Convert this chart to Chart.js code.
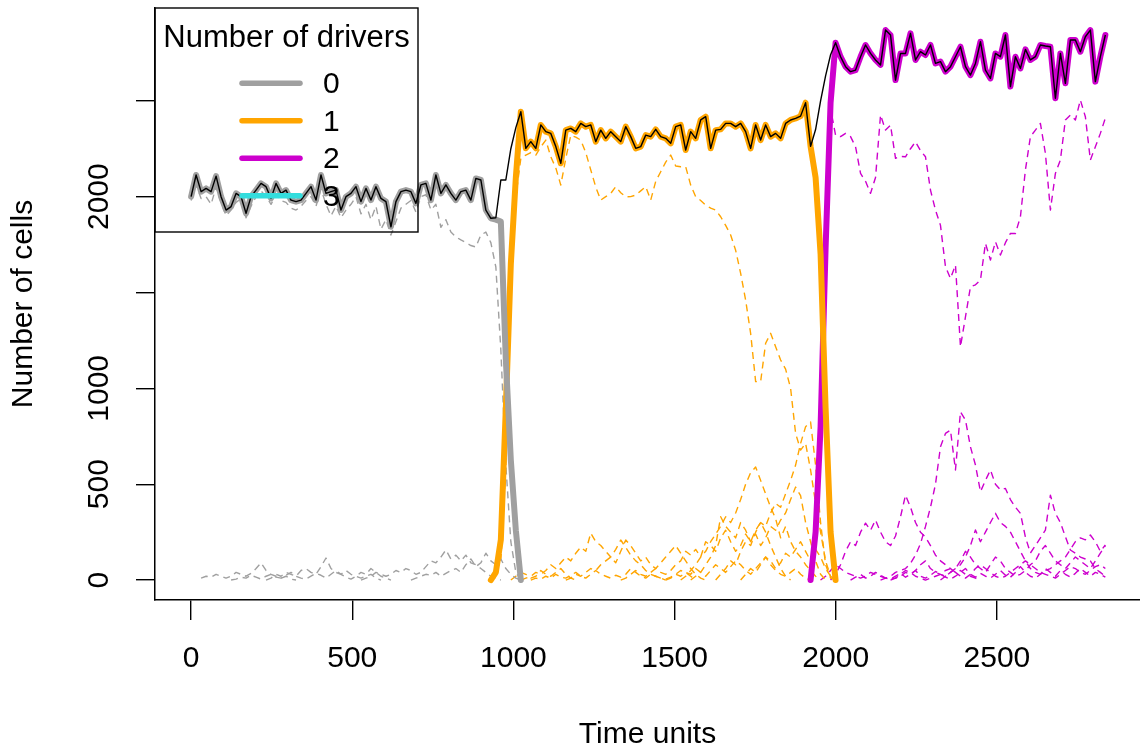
<!DOCTYPE html>
<html>
<head>
<meta charset="utf-8">
<script src="https://cdn.jsdelivr.net/npm/chart.js@4.4.1/dist/chart.umd.min.js"></script>
<style>
  html, body { margin: 0; padding: 0; background: #fff; }
  #wrap { width: 1140px; height: 754px; }
</style>
</head>
<body>
<div id="wrap"><canvas id="chart" width="1140" height="754"></canvas></div>
<script>
// time units between two recorded samples; every array below holds one value per sample
const step = 15.5;

// total number of cells (thin black line), from sample 0
const total = [
  2000, 2113, 2026, 2043, 2026, 2107, 2000, 1930, 1948, 2017,
  2000, 1913, 2000, 2034, 2069, 2052, 1991, 2069, 2017, 2034,
  1982, 1974, 1982, 2017, 2052, 1982, 2113, 2017, 2026, 2034,
  1930, 2000, 2017, 2052, 1974, 2043, 1982, 2052, 1991, 1974,
  1843, 1974, 2026, 2034, 2026, 1965, 2061, 2069, 1982, 2113,
  2017, 2061, 2017, 1982, 2026, 2034, 1982, 2095, 2087, 1930, 1887,
  1890, 2087, 2087, 2250, 2360,
  2443, 2252, 2287, 2252, 2374, 2339, 2330, 2261, 2174, 2347,
  2356, 2339, 2382, 2365, 2374, 2287, 2347, 2304, 2339, 2313,
  2287, 2365, 2313, 2252, 2261, 2321, 2313, 2351, 2313, 2304,
  2278, 2365, 2374, 2243, 2339, 2304, 2400, 2417, 2252, 2347,
  2351, 2382, 2382, 2365, 2382, 2339, 2252, 2374, 2295, 2374,
  2313, 2330, 2304, 2382, 2400, 2408, 2420, 2490,
  2262, 2350, 2500, 2630, 2740,
  2803, 2730, 2678, 2652, 2660, 2730, 2791, 2747, 2713, 2687,
  2869, 2843, 2608, 2747, 2747, 2852, 2713, 2756, 2739, 2791,
  2695, 2704, 2652, 2678, 2730, 2782, 2678, 2634, 2695, 2808,
  2660, 2617, 2747, 2730, 2843, 2574, 2730, 2669, 2768, 2713,
  2730, 2791, 2786, 2782, 2513, 2747, 2591, 2817, 2817, 2756,
  2834, 2869, 2600, 2730, 2843
];

// cells per number of drivers (thick lines)
const class0Start = 0;
const class0 = [
  2000, 2113, 2026, 2043, 2026, 2107, 2000, 1930, 1948, 2017,
  2000, 1913, 2000, 2034, 2069, 2052, 1991, 2069, 2017, 2034,
  1982, 1974, 1982, 2017, 2052, 1982, 2113, 2017, 2026, 2034,
  1930, 2000, 2017, 2052, 1974, 2043, 1982, 2052, 1991, 1974,
  1843, 1974, 2026, 2034, 2026, 1965, 2061, 2069, 1982, 2113,
  2017, 2061, 2017, 1982, 2026, 2034, 1982, 2095, 2087, 1930, 1887,
  1880, 1870, 1148, 626, 260, 0
];
const class1Start = 60;
const class1 = [
  0, 40, 210, 900, 1650, 2100,
  2443, 2252, 2287, 2252, 2374, 2339, 2330, 2261, 2174, 2347,
  2356, 2339, 2382, 2365, 2374, 2287, 2347, 2304, 2339, 2313,
  2287, 2365, 2313, 2252, 2261, 2321, 2313, 2351, 2313, 2304,
  2278, 2365, 2374, 2243, 2339, 2304, 2400, 2417, 2252, 2347,
  2351, 2382, 2382, 2365, 2382, 2339, 2252, 2374, 2295, 2374,
  2313, 2330, 2304, 2382, 2400, 2408, 2420, 2490,
  2262, 2100, 1700, 900, 250, 0
];
const class2Start = 124;
const class2 = [
  0, 250, 800, 1730, 2490,
  2803, 2730, 2678, 2652, 2660, 2730, 2791, 2747, 2713, 2687,
  2869, 2843, 2608, 2747, 2747, 2852, 2713, 2756, 2739, 2791,
  2695, 2704, 2652, 2678, 2730, 2782, 2678, 2634, 2695, 2808,
  2660, 2617, 2747, 2730, 2843, 2574, 2730, 2669, 2768, 2713,
  2730, 2791, 2786, 2782, 2513, 2747, 2591, 2817, 2817, 2756,
  2834, 2869, 2600, 2730, 2843
];

// single clones (dashed lines), grouped by number of drivers
const grayMain = [
  1980, 2060, 1990, 2000, 1960, 2050, 1970, 1900, 1930, 1970,
  1990, 1890, 1950, 2000, 2030, 2000, 1960, 2010, 1980, 1970,
  1940, 1930, 1950, 1980, 2000, 1950, 2040, 1960, 1900, 1950,
  1890, 1930, 1960, 2000, 1910, 1960, 1880, 1950, 1830, 1880,
  1800, 1870, 1940, 1960, 1980, 1920, 2000, 2010, 1930, 1960,
  1840, 1880, 1815, 1790, 1774, 1760, 1745, 1737, 1800, 1815,
  1760, 1633, 1200, 600, 200, 40, 0
];
const graySmall1 = [10, 20, 15, 30, 20, 10, 20, 40, 30, 20, 35, 60, 90, 50, 30, 20, 10, 20, 5, 0];
const graySmall2 = [0, 10, 30, 20, 40, 30, 20, 50, 60, 40, 30, 70, 115, 60, 40, 30, 50, 30, 20, 10, 20, 30, 10, 0];
const graySmall3 = [0, 10, 20, 40, 30, 20, 30, 50, 40, 60, 50, 30, 40, 70, 100, 90, 120, 157, 110, 130, 100, 130, 90, 80, 60, 40, 20, 10, 0];
const graySmall4 = [0, 10, 20, 30, 25, 40, 20, 35, 50, 60, 40, 80, 110, 70, 90, 140, 100, 80, 110, 60, 30, 10, 0];
const graySmall5 = [0, 5, 15, 10, 25, 15, 5, 20, 30, 15, 10, 25, 40, 20, 10, 5, 20, 35, 25, 10, 30, 50, 30, 15, 5, 20, 40, 30, 60, 40, 20, 10, 0];
const grayStarts = [0, 2, 15, 34, 44, 8];

const orangeMain = [
  100, 600, 1500, 2000, 2200, 2217, 2230, 2217, 2260, 2295,
  2208, 2150, 2060, 2200, 2321, 2310, 2295, 2230, 2139, 2050,
  1982, 2000, 2017, 2052, 2020, 1999, 2000, 2008, 2030, 2052,
  1982, 2080, 2130, 2180, 2217, 2160, 2156, 2156, 2060, 2000,
  1980, 1956, 1940, 1930, 1895, 1850, 1800, 1720, 1600, 1460,
  1287, 1035, 1035, 1235, 1287, 1217, 1148, 1100, 1000, 765,
  678, 713, 574, 400, 250, 100, 20, 0
];
const orangeB = [0, 20, 50, 80, 120, 150, 200, 240, 280, 330, 300, 350, 420, 500, 560, 590, 520, 450, 380, 320, 220, 280, 200, 150, 120, 80, 50, 20, 0];
const orangeC = [0, 30, 60, 100, 80, 150, 200, 180, 250, 300, 280, 350, 400, 380, 450, 520, 600, 713, 800, 824, 600, 300, 80, 10, 0];
const orangeD = [0, 20, 40, 80, 120, 180, 330, 280, 250, 220, 300, 260, 200, 240, 180, 220, 280, 260, 313, 350, 420, 485, 440, 300, 200, 100, 30, 0];
const orangeE = [0, 10, 20, 40, 30, 50, 80, 60, 90, 120, 100, 140, 172, 150, 245, 200, 180, 150, 120, 160, 209, 170, 130, 100, 80, 50, 30, 20, 10, 0];
const orangeF = [0, 10, 30, 20, 40, 60, 50, 80, 100, 120, 90, 150, 209, 180, 140, 100, 120, 80, 60, 90, 120, 150, 180, 140, 100, 60, 30, 10, 0];
const orangeG = [0, 20, 40, 30, 10, 20, 50, 30, 20, 40, 60, 30, 10, 0];
const orangeH = [0, 10, 30, 50, 30, 20, 40, 60, 40, 30, 50, 80, 100, 150, 130, 160, 120, 200, 180, 150, 220, 260, 200, 150, 180, 240, 200, 260, 300, 250, 180, 120, 60, 20, 0];
const orangeI = [0, 30, 60, 40, 80, 120, 100, 60, 90, 140, 120, 160, 200, 150, 100, 160, 120, 60, 20, 0];
const orangeJ = [0, 10, 5, 20, 10, 30, 15, 10, 25, 40, 20, 10, 30, 50, 30, 20, 10, 25, 15, 30, 60, 40, 20, 10, 30, 20, 10, 5, 15, 30, 50, 40, 20, 0];
const orangeK = [0, 10, 30, 20, 40, 30, 60, 40, 20, 50, 80, 60, 40, 70, 100, 80, 50, 30, 60, 90, 120, 80, 50, 30, 20, 40, 60, 30, 10, 0];
const orangeStarts = [62, 98, 105, 100, 66, 75, 64, 86, 110, 68, 95];

const magentaMain = [
  0, 200, 700, 1600, 2460, 2320, 2313, 2330, 2313, 2260,
  2121, 2080, 2017, 2100, 2426, 2347, 2373, 2200, 2210, 2208,
  2250, 2286, 2240, 2208, 2034, 1930, 1850, 1634, 1573, 1643,
  1217, 1373, 1530, 1540, 1565, 1756, 1669, 1765, 1695, 1760,
  1808, 1808, 1895, 2139, 2313, 2347, 2382, 2226, 1930, 2121,
  2191, 2400, 2426, 2400, 2504, 2417, 2191, 2260, 2330, 2410
];
const magentaB = [
  0, 10, 20, 40, 50, 60, 87, 130, 190, 280,
  380, 500, 695, 765, 782, 574, 878, 835, 695, 600,
  461, 520, 574, 500, 470, 478, 420, 380, 348, 224,
  141, 180, 220, 261, 443, 348, 300, 226, 157, 140,
  120, 110, 100, 60, 40, 20
];
const magentaC = [0, 30, 80, 150, 200, 180, 250, 297, 260, 313, 250, 200, 180, 230, 330, 443, 380, 300, 250, 224, 180, 130, 100, 80, 60, 40, 50, 30, 20, 10, 0];
const magentaD = [
  0, 20, 40, 60, 80, 120, 180, 261, 200, 250, 300, 348,
  300, 280, 250, 200, 150, 100, 60, 40, 30, 50, 60, 80, 100, 120, 160, 200, 220, 210, 235, 200, 150, 183
];
const magentaE = [
  0, 20, 50, 80, 60, 40, 30, 20, 10, 20, 40, 30, 20, 10, 5, 10, 30, 50, 40, 20,
  10, 0, 10, 20, 30, 50, 60, 40, 20, 10, 30, 60, 80, 60, 40, 20, 10, 20, 40, 60,
  80, 100, 80, 60, 40, 30, 20, 10, 30, 50, 70, 60, 40, 30, 50, 70, 80, 60
];
const magentaF = [
  0, 10, 20, 40, 30, 50, 80, 100, 60, 40, 30, 20, 40, 60, 100, 150, 120, 80, 60, 40,
  80, 120, 100, 60, 40, 20, 30, 50, 80, 100, 150, 180, 140, 100, 80, 60, 90, 120, 100, 80,
  60, 100, 140, 180
];
const magentaG = [
  0, 15, 30, 10, 20, 40, 25, 10, 5, 20, 35, 15, 30, 50, 20, 10, 25, 45, 30, 15,
  5, 20, 40, 60, 30, 15, 35, 20, 10, 30, 50, 25, 15, 40, 70, 40, 20, 10, 30, 60,
  40, 20, 50, 30, 15, 35, 60, 40, 20, 40, 30, 15
];
const magentaStarts = [124, 138, 128, 150, 126, 140, 132];

const xTicks = [0, 500, 1000, 1500, 2000, 2500];
const yTicks = [0, 500, 1000, 1500, 2000, 2500];
const yTickLabels = ['0', '500', '1000', '', '2000', ''];
const driverLabels = ['0', '1', '2', '3'];
const driverColors = ['#a0a0a0', '#ffa500', '#cd00cd', '#33dddd'];

const FONT = '"Liberation Sans", Arial, Helvetica, sans-serif';

function toPoints(start, values) {
  return values.map((v, k) => ({ x: (start + k) * step, y: v }));
}

const datasets = [];

datasets.push({
  data: toPoints(0, total),
  borderColor: '#000', borderWidth: 1.4, order: 0,
  borderJoinStyle: 'round'
});

[[class0Start, class0], [class1Start, class1], [class2Start, class2]].forEach(([start, vals], k) => {
  datasets.push({
    data: toPoints(start, vals),
    borderColor: driverColors[k], borderWidth: 6, order: 1,
    borderCapStyle: 'round', borderJoinStyle: 'round'
  });
});

function addClones(list, starts, color) {
  list.forEach((vals, k) => {
    datasets.push({
      data: toPoints(starts[k], vals),
      borderColor: color, borderWidth: 1.4, borderDash: [7, 5], order: 2,
      borderJoinStyle: 'round'
    });
  });
}
addClones([grayMain, graySmall1, graySmall2, graySmall3, graySmall4, graySmall5], grayStarts, driverColors[0]);
addClones([orangeMain, orangeB, orangeC, orangeD, orangeE, orangeF, orangeG, orangeH, orangeI, orangeJ, orangeK], orangeStarts, driverColors[1]);
addClones([magentaMain, magentaB, magentaC, magentaD, magentaE, magentaF, magentaG], magentaStarts, driverColors[2]);

// legend box in the top left corner, like R's legend("topleft", ...)
const driverLegend = {
  id: 'driverLegend',
  afterDraw(chart) {
    const ctx = chart.ctx;
    const a = chart.chartArea;
    const left = a.left, top = a.top;
    ctx.save();
    ctx.strokeStyle = '#000';
    ctx.lineWidth = 1.4;
    ctx.strokeRect(left, top, 263, 224);

    ctx.fillStyle = '#000';
    ctx.font = '31px ' + FONT;
    ctx.textAlign = 'center';
    ctx.textBaseline = 'alphabetic';
    ctx.fillText('Number of drivers', left + 131.5, top + 38.5);

    ctx.font = '30px ' + FONT;
    ctx.textAlign = 'left';
    ctx.textBaseline = 'middle';
    ctx.lineCap = 'round';
    ctx.lineWidth = 5.5;
    driverLabels.forEach((lab, k) => {
      const y = top + 75.3 + k * 37.5;
      ctx.strokeStyle = driverColors[k];
      ctx.beginPath();
      ctx.moveTo(left + 87, y);
      ctx.lineTo(left + 145, y);
      ctx.stroke();
      ctx.fillText(lab, left + 168, y + 1.5);
    });
    ctx.restore();
  }
};

new Chart(document.getElementById('chart'), {
  type: 'line',
  data: { datasets },
  plugins: [driverLegend],
  options: {
    responsive: false,
    animation: false,
    devicePixelRatio: 1,
    layout: { padding: { top: 8, left: 0, right: 0, bottom: 0 } },
    plugins: { legend: { display: false }, tooltip: { enabled: false } },
    elements: { point: { radius: 0 }, line: { tension: 0 } },
    scales: {
      x: {
        type: 'linear',
        min: -112, max: 2944,
        afterBuildTicks: s => { s.ticks = xTicks.map(v => ({ value: v })); },
        afterFit: s => { s.height = 154; s.paddingLeft = 0; s.paddingRight = 0; },
        ticks: {
          autoSkip: false, maxRotation: 0, padding: 20.5, color: '#000',
          font: { family: FONT, size: 30 },
          callback: v => String(v)
        },
        grid: { drawOnChartArea: false, drawTicks: true, tickLength: 20, color: '#000', lineWidth: 1.4 },
        border: { display: true, color: '#000', width: 1.5 },
        title: {
          display: true, text: 'Time units', color: '#000',
          font: { family: FONT, size: 30 }, padding: { top: 0, bottom: 1.5 }
        }
      },
      y: {
        type: 'linear',
        min: -104, max: 2984,
        afterBuildTicks: s => { s.ticks = yTicks.map(v => ({ value: v })); },
        afterFit: s => { s.width = 155; s.paddingTop = 0; s.paddingBottom = 0; },
        ticks: {
          autoSkip: false, minRotation: 90, maxRotation: 90, crossAlign: 'center',
          padding: 2.6, color: '#000',
          font: { family: FONT, size: 30 },
          callback: v => yTickLabels[yTicks.indexOf(v)]
        },
        grid: { drawOnChartArea: false, drawTicks: true, tickLength: 19, color: '#000', lineWidth: 1.4 },
        border: { display: true, color: '#000', width: 1.5 },
        title: {
          display: true, text: 'Number of cells', color: '#000',
          font: { family: FONT, size: 30 }, padding: { top: 6, bottom: 0 }
        }
      }
    }
  }
});
</script>
</body>
</html>
